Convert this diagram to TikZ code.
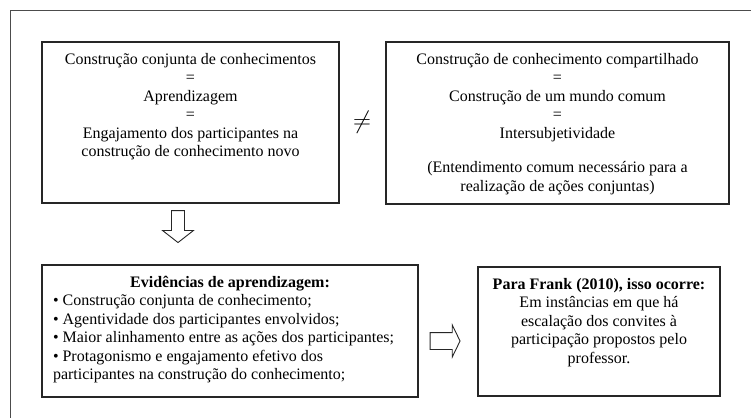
\documentclass[tikz,border=0pt]{standalone}
\usepackage{fontspec}
\setmainfont{Liberation Serif}
\usetikzlibrary{shapes.arrows,positioning}

\tikzset{
  panel/.style={draw=black!85,line width=1.4pt,inner xsep=7pt,inner ysep=11pt},
  hollow/.style={single arrow,draw=black!85,line width=0.9pt,fill=white,inner sep=0pt,
    single arrow head indent=0pt},
}

\begin{document}
\begin{tikzpicture}[x=1pt,y=-1pt,font=\fontsize{16}{18.5}\selectfont]
\useasboundingbox (0,0) rectangle (751,418);
\draw[black!70,line width=0.9pt] (751,10) -- (10,10) -- (10,418);

\node[panel] (know) at (190.5,122.5) {\parbox[c][139pt][t]{283pt}{\centering
  Construção conjunta de conhecimentos\\
  =\\
  Aprendizagem\\
  =\\
  Engajamento dos participantes na\\
  construção de conhecimento novo}};
\node[panel] (shared) at (557.5,123) {\parbox[c][140pt][t]{329pt}{\centering
  Construção de conhecimento compartilhado\\
  =\\
  Construção de um mundo comum\\
  =\\
  Intersubjetividade\\[16pt]
  (Entendimento comum necessário para a\\
  realização de ações conjuntas)}};
\node (neq) at (362,122) {\fontsize{24}{24}\selectfont$\neq$};

\node[hollow,shape border rotate=270,minimum height=32pt,minimum width=31pt,
  single arrow tip angle=104] (down) at (178,224) {\rule{9.5pt}{0pt}};

\node[panel,inner xsep=11pt] (evid) at (230,331) {\parbox[c][110pt][t]{354pt}{\raggedright
  \centerline{\textbf{Evidências de aprendizagem:}}
  \textbullet\ Construção conjunta de conhecimento;\\
  \textbullet\ Agentividade dos participantes envolvidos;\\
  \textbullet\ Maior alinhamento entre as ações dos participantes;\\
  \textbullet\ Protagonismo e engajamento efetivo dos\\
  participantes na construção do conhecimento;}};
\node[hollow,minimum height=30pt,minimum width=32pt,
  single arrow tip angle=128] (right) at (443,341) {\rule{0pt}{15pt}};
\node[panel] (frank) at (599,331.5) {\parbox[c][107pt][t]{228pt}{\centering
  \textbf{Para Frank (2010), isso ocorre:}\\
  Em instâncias em que há\\
  escalação dos convites à\\
  participação propostos pelo\\
  professor.}};
\end{tikzpicture}
\end{document}
